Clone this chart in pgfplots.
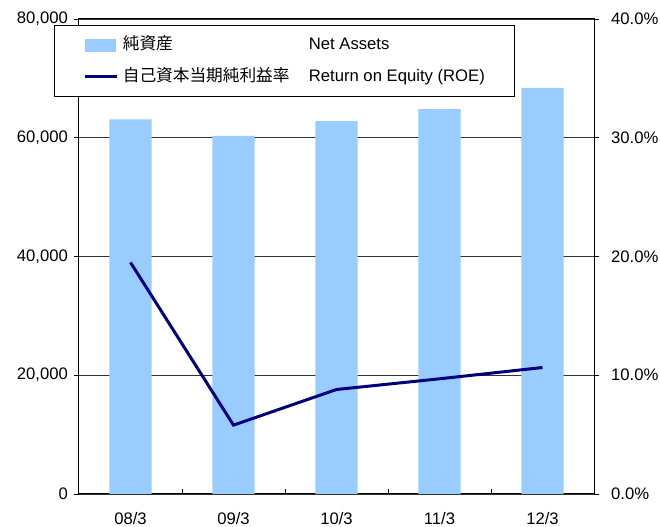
\documentclass[border=0pt]{standalone}
\usepackage{pgfplots}
\pgfplotsset{compat=1.18}
\usepackage{fontspec}
\setmainfont{Liberation Sans}
\newfontfamily\jp{Noto Sans CJK JP}
\definecolor{barblue}{HTML}{99CCFF}
\definecolor{navyline}{HTML}{000080}
\begin{document}
\fontsize{12.5}{15}\selectfont
\begin{tikzpicture}
\begin{axis}[
  at={(0,0)}, anchor=south west,
  scale only axis, width=386.25pt, height=356.25pt,
  xmin=-0.5, xmax=4.5, ymin=0, ymax=80000,
  xtick={0,1,2,3,4}, xticklabels={08/3,09/3,10/3,11/3,12/3},
  minor xtick={0.5,1.5,2.5,3.5},
  xtick pos=left, ytick pos=left,
  ytick={0,20000,40000,60000,80000},
  ymajorgrids, grid style={black!80, line width=0.6pt},
  major x tick style={draw=none},
  tick align=outside, major tick length=4pt, minor tick length=4pt,
  minor x tick style={yshift=4pt, black, line width=0.6pt},
  major y tick style={black, line width=0.6pt},
  axis line style={line width=0.75pt},
  scaled y ticks=false,
  /pgf/number format/assume math mode=true,
  y tick label style={/pgf/number format/.cd, fixed, set thousands separator={,}},
  x tick label style={yshift=-5.5pt},
  ybar, bar width=0.41,
]
\addplot[fill=barblue, draw=none] coordinates {(0,63100) (1,60300) (2,62800) (3,64800) (4,68400)};
\end{axis}
\begin{axis}[
  at={(0,0)}, anchor=south west,
  scale only axis, width=386.25pt, height=356.25pt,
  xmin=-0.5, xmax=4.5, ymin=0, ymax=40,
  hide x axis,
  axis y line*=right,
  ytick={0,10,20,30,40},
  yticklabel={\pgfmathprintnumber[fixed,fixed zerofill,precision=1]{\tick}\%},
  y tick label style={xshift=4.5pt},
  /pgf/number format/assume math mode=true,
  tick align=outside, major tick length=4pt,
  major y tick style={black, line width=0.6pt},
  axis line style={line width=0.75pt},
  legend cell align=left,
  legend style={at={(-0.0485,0.987)}, anchor=north west, draw=black, line width=0.75pt,
    fill=white, inner xsep=22pt, inner ysep=9pt, row sep=12pt, column sep=3pt,
    nodes={inner sep=0pt, text height=9pt, text depth=2.5pt}},
]
\addlegendimage{legend image code/.code={\fill[barblue] (0pt,-4.5pt) rectangle (22.5pt,4.5pt);}}
\addlegendentry{\makebox[139.5pt][l]{\jp 純資産}Net Assets}
\addplot[navyline, line width=2.25pt, legend image code/.code={\draw[navyline, line width=2.25pt] (0pt,0pt) -- (24pt,0pt);}]
  coordinates {(0,19.5) (1,5.8) (2,8.8) (3,9.7) (4,10.65)};
\addlegendentry{\makebox[139.5pt][l]{\jp 自己資本当期純利益率}Return on Equity (ROE)}
\end{axis}
\pgfresetboundingbox
\path (-59.25pt,-24.75pt) rectangle (435.75pt,370.5pt);
\end{tikzpicture}
\end{document}
